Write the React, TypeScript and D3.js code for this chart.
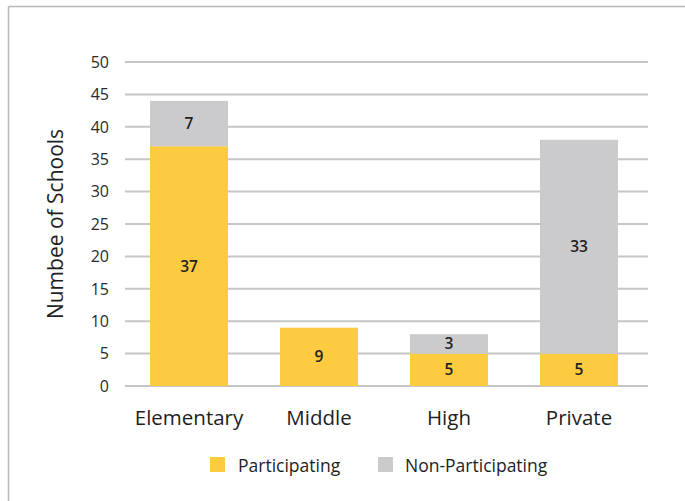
import React from "react";
import * as d3 from "d3";

const categories = ["Elementary", "Middle", "High", "Private"];
const participating = [37, 9, 5, 5];
const nonParticipating = [7, 0, 3, 33];
const yTicks = [0, 5, 10, 15, 20, 25, 30, 35, 40, 45, 50];
const seriesNames = ["Participating", "Non-Participating"];
const colors = ["#FCCB3F", "#CBCBCD"];

const FONT = "'Open Sans', 'Noto Sans', sans-serif";

export default function App() {
  const W = 685, H = 501;
  const x = d3.scaleBand().domain(categories).range([124, 644]).paddingInner(0.4).paddingOuter(0.2);
  const y = d3.scaleLinear().domain([0, 50]).range([386, 62]);
  const rows = categories.map((c, i) => ({ cat: c, Participating: participating[i], "Non-Participating": nonParticipating[i] }));
  const stacked = d3.stack<any>().keys(seriesNames)(rows);

  return (
    <svg width={W} height={H} style={{ position: "absolute", left: 0, top: 0, background: "#fff" }} fontFamily={FONT}>
      <rect x={0} y={0} width={W} height={H} fill="#fff" />
      <line x1={8.5} y1={6.5} x2={W} y2={6.5} stroke="#B8B8B8" strokeWidth={1.5} />
      <line x1={8.5} y1={6.5} x2={8.5} y2={H} stroke="#B8B8B8" strokeWidth={1.5} />
      {yTicks.map((t) => (
        <g key={t}>
          <line x1={125} x2={648} y1={y(t)} y2={y(t)} stroke="#C6C6C6" strokeWidth={2} />
          <text x={109} y={y(t)} dy="0.36em" textAnchor="end" fontSize={16} fill="#2a2a2a">{t}</text>
        </g>
      ))}
      <text transform={`translate(56,${y(25)}) rotate(-90)`} textAnchor="middle" fontSize={21} fill="#1e1e1e" dy="0.35em">Numbee of Schools</text>
      {stacked.map((s, si) => (
        <g key={s.key}>
          {s.map((d, i) => {
            const v = d[1] - d[0];
            if (v <= 0) return null;
            const bx = x(categories[i])!;
            return (
              <g key={i}>
                <rect x={bx} y={y(d[1])} width={x.bandwidth()} height={y(d[0]) - y(d[1])} fill={colors[si]} />
                <text x={bx + x.bandwidth() / 2} y={y((d[0] + d[1]) / 2)} dy="0.36em" textAnchor="middle" fontSize={15.5} fontWeight={600} fill="#222">{v}</text>
              </g>
            );
          })}
        </g>
      ))}
      {categories.map((c) => (
        <text key={c} x={x(c)! + x.bandwidth() / 2} y={425} textAnchor="middle" fontSize={20.5} fill="#1e1e1e">{c}</text>
      ))}
      <g>
        <rect x={210} y={457} width={15} height={15} fill={colors[0]} />
        <text x={238} y={471.5} fontSize={17.5} fill="#1e1e1e">{seriesNames[0]}</text>
        <rect x={378} y={457} width={15} height={15} fill={colors[1]} />
        <text x={405} y={471.5} fontSize={17.5} fill="#1e1e1e">{seriesNames[1]}</text>
      </g>
    </svg>
  );
}
